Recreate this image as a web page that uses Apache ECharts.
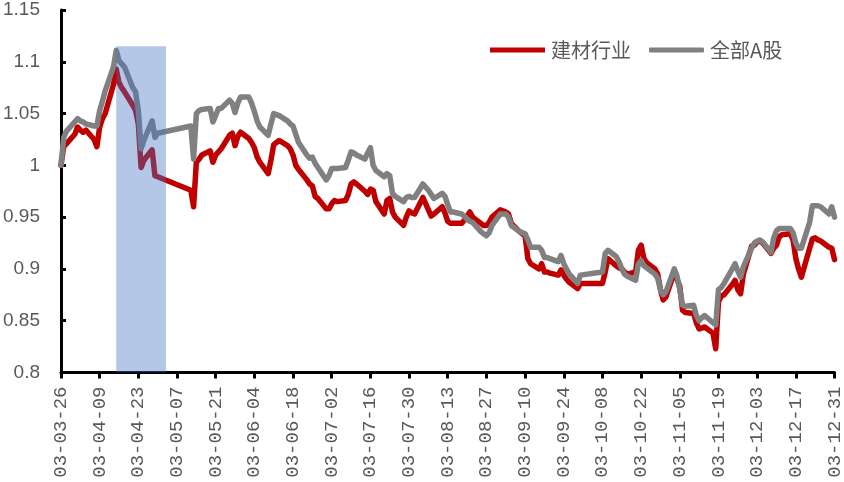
<!DOCTYPE html>
<html>
<head>
<meta charset="utf-8">
<script src="https://cdn.jsdelivr.net/npm/echarts@6/dist/echarts.min.js"></script>
<style>html,body{margin:0;padding:0;background:#fff}#c{width:844px;height:482px}</style>
</head>
<body>
<div id="c"></div>
<script>
// 2003 trading dates (MM-DD)
const dates = ['03-26','03-27','03-28','03-31','04-01','04-02','04-03','04-04','04-07','04-08','04-09','04-10','04-11','04-14','04-15','04-16','04-17','04-18','04-21','04-22','04-23','04-24','04-25','04-28','04-29','04-30',
'05-12','05-13','05-14','05-15','05-16','05-19','05-20','05-21','05-22','05-23','05-26','05-27','05-28','05-29','05-30',
'06-02','06-03','06-04','06-05','06-06','06-09','06-10','06-11','06-12','06-13','06-16','06-17','06-18','06-19','06-20','06-23','06-24','06-25','06-26','06-27','06-30',
'07-01','07-02','07-03','07-04','07-07','07-08','07-09','07-10','07-11','07-14','07-15','07-16','07-17','07-18','07-21','07-22','07-23','07-24','07-25','07-28','07-29','07-30','07-31',
'08-01','08-04','08-05','08-06','08-07','08-08','08-11','08-12','08-13','08-14','08-15','08-18','08-19','08-20','08-21','08-22','08-25','08-26','08-27','08-28','08-29',
'09-01','09-02','09-03','09-04','09-05','09-08','09-09','09-10','09-11','09-12','09-15','09-16','09-17','09-18','09-19','09-22','09-23','09-24','09-25','09-26','09-29','09-30',
'10-08','10-09','10-10','10-13','10-14','10-15','10-16','10-17','10-20','10-21','10-22','10-23','10-24','10-27','10-28','10-29','10-30','10-31',
'11-03','11-04','11-05','11-06','11-07','11-10','11-11','11-12','11-13','11-14','11-17','11-18','11-19','11-20','11-21','11-24','11-25','11-26','11-27','11-28',
'12-01','12-02','12-03','12-04','12-05','12-08','12-09','12-10','12-11','12-12','12-15','12-16','12-17','12-18','12-19','12-22','12-23','12-24','12-25','12-26','12-29','12-30','12-31'];

// 建材行业
const buildingMaterials = [1.000,1.018,1.021,1.030,1.037,1.034,1.032,1.034,1.025,1.018,1.037,1.045,1.050,1.078,1.093,1.080,1.075,1.071,1.058,1.053,1.040,0.998,1.005,1.015,0.990,0.989,
0.976,0.960,1.003,1.006,1.010,1.014,1.003,1.010,1.013,1.016,1.029,1.031,1.019,1.028,1.032,
1.026,1.022,1.017,1.008,1.003,0.992,1.005,1.020,1.022,1.024,1.019,1.016,1.010,1.000,0.996,0.986,0.982,0.980,0.970,0.968,0.958,
0.958,0.963,0.966,0.965,0.966,0.972,0.982,0.984,0.982,0.975,0.972,0.977,0.976,0.965,0.953,0.966,0.968,0.955,0.950,0.942,0.950,0.956,0.954,
0.953,0.969,0.963,0.957,0.951,0.953,0.960,0.954,0.946,0.944,0.944,0.944,0.947,0.951,0.955,0.950,0.944,0.942,0.942,0.945,0.950,
0.957,0.956,0.955,0.953,0.944,0.936,0.934,0.932,0.910,0.905,0.900,0.905,0.897,0.897,0.896,0.894,0.899,0.894,0.890,0.887,0.881,0.886,
0.886,0.897,0.910,0.903,0.901,0.900,0.897,0.895,0.897,0.918,0.923,0.910,0.906,0.900,0.895,0.880,0.870,0.873,
0.897,0.890,0.883,0.860,0.858,0.857,0.848,0.842,0.843,0.844,0.838,0.823,0.868,0.874,0.875,0.885,0.889,0.880,0.876,0.895,
0.922,0.923,0.926,0.927,0.925,0.915,0.920,0.923,0.931,0.933,0.934,0.928,0.910,0.900,0.892,0.920,0.929,0.930,0.928,0.927,0.921,0.920,0.909];

// 全部A股
const allAShares = [1.000,1.027,1.033,1.042,1.045,1.043,1.042,1.040,1.038,1.038,1.053,1.062,1.072,1.095,1.111,1.101,1.098,1.095,1.075,1.071,1.053,1.016,1.024,1.043,1.027,1.031,
1.038,1.006,1.050,1.053,1.054,1.055,1.042,1.048,1.055,1.055,1.063,1.060,1.051,1.060,1.066,
1.066,1.060,1.052,1.043,1.037,1.029,1.040,1.050,1.049,1.048,1.043,1.040,1.038,1.030,1.022,1.010,1.007,1.008,1.002,0.998,0.986,
0.990,0.997,0.997,0.997,0.998,1.005,1.013,1.012,1.010,1.006,1.012,1.017,1.000,0.995,0.989,0.992,0.990,0.973,0.970,0.965,0.969,0.970,0.969,
0.969,0.982,0.979,0.976,0.972,0.968,0.973,0.970,0.962,0.955,0.955,0.953,0.951,0.948,0.946,0.945,0.936,0.934,0.932,0.935,0.942,
0.953,0.953,0.953,0.950,0.942,0.936,0.935,0.934,0.928,0.921,0.921,0.918,0.911,0.911,0.910,0.907,0.913,0.905,0.900,0.895,0.886,0.894,
0.897,0.915,0.918,0.912,0.907,0.900,0.895,0.893,0.889,0.905,0.908,0.903,0.901,0.895,0.891,0.880,0.875,0.878,
0.900,0.893,0.880,0.865,0.864,0.865,0.855,0.850,0.853,0.855,0.848,0.846,0.880,0.882,0.886,0.900,0.905,0.898,0.892,0.902,
0.920,0.925,0.927,0.928,0.926,0.916,0.930,0.937,0.939,0.939,0.939,0.935,0.925,0.920,0.920,0.945,0.961,0.961,0.961,0.960,0.953,0.960,0.950];

const xTickLabels = ['03-03-26','03-04-09','03-04-23','03-05-07','03-05-21','03-06-04','03-06-18','03-07-02','03-07-16','03-07-30','03-08-13','03-08-27','03-09-10','03-09-24','03-10-08','03-10-22','03-11-05','03-11-19','03-12-03','03-12-17','03-12-31'];
const shadeRange = ['04-15','05-03'];
const shadeTop = 1.115;
const seriesNames = ['建材行业','全部A股'];

const base = Date.UTC(2003,2,26);
function dayOf(md){ const p = md.split('-'); return Math.round((Date.UTC(2003, +p[0]-1, +p[1]) - base)/86400000); }
const xs = dates.map(dayOf);
const pair = vals => xs.map((d,i)=>[d, vals[i]]);

const chart = echarts.init(document.getElementById('c'), null, {renderer:'canvas'});
const labelColor = '#595959';
chart.setOption({
  animation:false,
  backgroundColor:'#fff',
  grid:{left:59.5, right:9, top:10, bottom:109.5, containLabel:false},
  legend:{
    left:485, top:35, itemWidth:55, itemHeight:5, itemGap:18,
    data:[{name:seriesNames[0], icon:'rect'},{name:seriesNames[1], icon:'roundRect'}],
    textStyle:{fontSize:20, color:labelColor, fontFamily:'Noto Sans CJK SC', padding:[0,0,0,1]}
  },
  xAxis:{
    type:'value', min:0, max:280, interval:14,
    axisLine:{lineStyle:{color:'#000', width:3}},
    axisTick:{show:true, inside:false, length:6, lineStyle:{color:'#000', width:3}},
    splitLine:{show:false},
    axisLabel:{rotate:90, margin:14, fontSize:19, color:labelColor, fontFamily:'Liberation Mono',
      formatter:(v)=> xTickLabels[Math.round(v/14)] || ''}
  },
  yAxis:{
    type:'value', min:0.8, max:1.15, interval:0.05,
    axisLine:{show:true, lineStyle:{color:'#000', width:3}},
    axisTick:{show:true, inside:true, length:5, lineStyle:{color:'#000', width:3}},
    splitLine:{show:false},
    axisLabel:{margin:21, fontSize:19, color:labelColor, fontFamily:'Liberation Sans'}
  },
  series:[
    {name:seriesNames[0], type:'line', data:pair(buildingMaterials), showSymbol:false, symbol:'none',
     lineStyle:{color:'#C00000', width:5.5, join:'round', cap:'round'}, itemStyle:{color:'#C00000'}, z:2},
    {name:seriesNames[1], type:'line', data:pair(allAShares), showSymbol:false, symbol:'none',
     lineStyle:{color:'#808080', width:5.5, join:'round', cap:'round'}, itemStyle:{color:'#808080'}, z:3},
    {name:'shade', type:'line', data:[[dayOf(shadeRange[0]), shadeTop],[dayOf(shadeRange[1]), shadeTop]],
     showSymbol:false, symbol:'none', silent:true, zlevel:1, z:10,
     lineStyle:{width:0, opacity:0}, areaStyle:{color:'rgba(68,114,196,0.4)', origin:'start', opacity:1}}
  ]
});
</script>
</body>
</html>
